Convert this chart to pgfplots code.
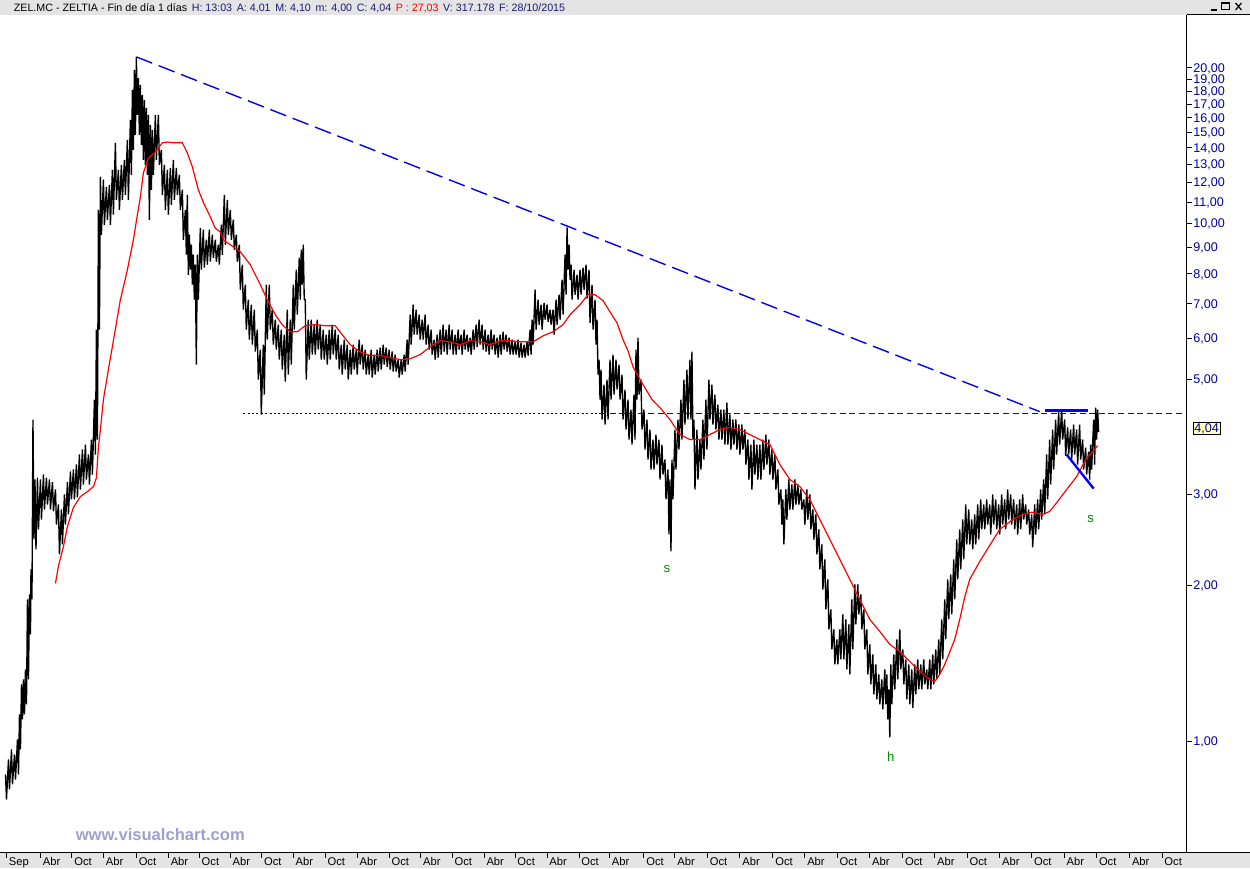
\documentclass[border=0pt]{standalone}
\usepackage{fontspec}
\setmainfont{Liberation Sans}
\usepackage{pgfplots}
\usepackage{pgfplotstable}
\pgfplotsset{compat=1.18}
\definecolor{hdrgray}{RGB}{228,228,228}
\definecolor{axblue}{RGB}{0,0,160}
\definecolor{wm}{RGB}{160,160,205}
\definecolor{sgreen}{RGB}{0,140,0}
\definecolor{boxyellow}{RGB}{255,255,190}
\definecolor{hdrblue}{RGB}{25,25,112}
\definecolor{hdrred}{RGB}{255,0,0}

\pgfplotstableread{
x p
5 0.863
6 0.772
8 0.923
9 0.808
11 0.965
12 0.826
14 0.944
15 0.844
17 1.009
18 0.863
19 1.127
20 0.965
21 1.288
22 1.103
23 1.317
24 1.127
25 1.377
26 1.179
27 1.880
28 1.317
29 1.922
30 1.609
30.5 2.148
31.5 1.880
32.5 4.183
33.5 2.454
34.5 3.204
35.5 2.348
37 3.23
38 2.566
40 3.204
41 2.682
43 3.276
44 2.804
46 3.23
47 2.867
49 3.204
50 2.804
52 3.17
53 2.78
55 3.065
56 2.623
58 2.867
59 2.296
61 2.804
62 2.400
64 2.998
65 2.623
67 3.17
68 2.743
70 3.32
71 2.932
73 3.350
74 2.932
76 3.425
77 2.96
79 3.581
80 3.065
82 3.661
83 3.134
85 3.743
86 3.204
88 3.581
89 3.134
91 3.827
92 3.276
94 4.572
95 3.581
96 6.238
97 3.827
98 10.63
99 6.238
100 12.3
101 9.514
103 12.15
104 9.947
106 11.77
107 10.17
109 11.88
110 9.947
112 12.70
113 10.40
115 14.32
116 11.11
118 12.70
119 10.63
121 12.98
122 11.11
124 13.27
125 11.36
127 14.51
128 11.11
130 15.86
131 12.42
132 18.12
133 13.88
134 19.80
135 14.83
136 20.98
137 16.21
138 19.10
139 14.83
140 18.52
141 14.19
142 17.72
143 13.27
144 17.33
145 12.98
146 16.73
147 12.42
148 16.21
149 10.17
150 15.51
151 11.62
152 15.17
153 12.42
155 16.21
156 13.27
158 16.21
159 12.98
161 13.88
162 11.36
164 12.98
165 10.63
167 12.70
168 10.40
170 12.81
171 10.87
173 13.27
174 11.11
176 12.81
177 11.36
179 12.42
180 10.63
182 11.62
183 9.305
185 10.63
186 8.705
187 11.36
188 7.965
189 9.514
190 8.144
191 9.101
192 7.619
193 8.705
194 7.128
195 8.327
196 5.340
197 8.705
198 7.128
200 9.81
201 8.144
203 9.728
204 8.22
206 9.305
207 8.327
209 9.728
210 8.44
212 9.514
213 8.59
215 9.305
216 8.44
218 9.101
219 8.327
221 9.947
222 8.705
224 11.36
225 9.101
227 11.11
228 9.514
230 10.63
231 9.305
233 10.17
234 8.901
236 9.514
237 8.44
239 9.101
240 7.451
242 8.327
243 6.818
245 7.619
246 6.238
248 7.128
249 5.967
251 6.971
252 5.836
254 6.818
255 5.66
257 6.238
258 4.996
260 5.708
261 4.277
263 5.836
264 4.674
266 7.619
267 5.967
269 7.619
270 6.238
272 6.818
273 5.836
275 6.522
276 5.708
278 6.378
279 5.460
281 6.238
282 5.223
284 6.101
285 4.95
287 6.818
288 5.108
290 6.522
291 5.340
293 7.619
294 6.238
296 8.144
297 6.668
299 8.59
300 7.128
301 8.901
302 7.619
303 9.101
304 7.128
305 7.128
306 4.996
308 6.522
309 5.460
311 6.522
312 5.583
314 6.378
315 5.583
317 6.522
318 5.708
320 6.378
321 5.460
323 6.238
324 5.460
326 6.101
327 5.340
329 6.238
330 5.460
332 6.378
333 5.583
335 6.238
336 5.460
338 6.101
339 5.223
341 5.836
342 5.108
344 5.967
345 5.223
347 5.836
348 4.996
350 5.708
351 5.108
353 5.836
354 5.223
356 5.708
357 5.108
359 5.967
360 5.340
362 5.836
363 5.223
365 5.708
366 5.108
368 5.583
369 5.108
371 5.708
372 5.04
374 5.583
375 5.108
377 5.708
378 5.18
380 5.76
381 5.223
383 5.836
384 5.340
386 5.76
387 5.29
389 5.708
390 5.223
392 5.66
393 5.18
395 5.583
396 5.18
398 5.460
399 5.04
401 5.460
402 5.108
404 5.583
405 5.18
407 5.967
408 5.340
410 6.668
411 5.836
413 6.971
414 6.101
416 6.818
417 6.101
419 6.668
420 5.967
422 6.522
423 5.967
425 6.668
426 5.836
428 6.378
429 5.708
431 6.238
432 5.583
434 5.967
435 5.460
437 6.101
438 5.51
440 6.238
441 5.583
443 6.378
444 5.66
446 6.238
447 5.583
449 6.378
450 5.708
452 6.238
453 5.583
455 6.101
456 5.583
458 6.238
459 5.708
461 6.101
462 5.583
464 6.238
465 5.708
467 6.101
468 5.66
470 6.02
471 5.583
473 6.238
474 5.708
476 6.378
477 5.78
479 6.522
480 5.836
482 6.378
483 5.708
485 6.238
486 5.66
488 6.101
489 5.583
491 6.238
492 5.708
494 6.101
495 5.583
497 6.02
498 5.51
500 6.101
501 5.583
503 6.18
504 5.708
506 6.101
507 5.66
509 6.02
510 5.583
512 5.967
513 5.583
515 5.91
516 5.583
518 5.967
519 5.51
521 5.89
522 5.51
524 5.836
525 5.51
527 5.91
528 5.56
530 6.238
531 5.583
532 6.522
533 5.836
535 7.451
536 6.238
538 7.128
539 6.378
541 6.971
542 6.238
544 7.03
545 6.522
547 6.971
548 6.46
550 6.818
551 6.378
553 6.818
554 6.101
556 7.128
557 6.378
559 7.288
560 6.522
562 7.790
563 6.668
565 8.705
566 7.288
567 9.83
568 8.144
569 9.101
570 7.790
571 8.327
572 7.128
574 8.144
575 7.288
577 7.965
578 7.128
580 8.144
581 7.288
583 8.22
584 7.451
586 8.327
587 7.16
589 8.144
590 6.43
592 7.619
593 6.238
595 7.128
596 5.836
597 6.522
598 5.108
599 5.460
600 4.572
601 5.223
602 4.183
604 4.887
605 4.091
607 4.996
608 4.183
610 5.460
611 4.572
613 5.583
614 4.674
616 5.460
617 4.779
619 5.340
620 4.572
622 5.108
623 4.183
625 4.779
626 4.001
628 4.572
629 3.827
631 4.373
632 3.743
634 4.674
635 3.827
636 5.708
637 4.572
638 6.02
639 4.674
641 4.996
642 4.001
644 4.373
645 3.661
647 4.183
648 3.502
650 4.001
651 3.350
653 3.827
654 3.350
656 3.913
657 3.425
659 3.827
660 3.204
662 3.743
663 3.276
665 3.502
666 2.932
668 3.350
669 2.509
670 3.204
671 2.327
672 3.502
673 2.932
675 4.001
676 3.350
678 4.183
679 3.661
681 4.572
682 3.827
684 4.996
685 4.091
687 5.223
688 4.183
690 5.460
691 4.183
692 5.66
693 3.827
694 4.183
695 3.065
697 4.001
698 3.204
700 3.827
701 3.350
703 4.183
704 3.502
706 4.572
707 3.661
709 4.996
710 4.183
712 4.887
713 4.091
715 4.674
716 4.001
718 4.471
719 3.827
721 4.373
722 3.827
724 4.373
725 3.743
727 4.51
728 3.743
730 4.277
731 3.661
733 4.183
734 3.743
736 4.183
737 3.661
739 4.091
740 3.581
742 4.091
743 3.661
745 4.001
746 3.425
748 3.827
749 3.204
751 3.743
752 3.065
754 3.827
755 3.276
757 3.743
758 3.204
760 3.743
761 3.204
763 3.827
764 3.350
766 3.913
767 3.425
769 3.827
770 3.276
772 3.661
773 3.204
775 3.581
776 3.065
778 3.350
779 2.867
781 3.065
782 2.623
783 2.932
784 2.400
786 3.065
787 2.682
789 3.204
790 2.804
792 3.134
793 2.804
795 3.204
796 2.867
798 3.134
799 2.867
801 3.065
802 2.804
804 2.932
805 2.623
807 3.065
808 2.682
810 2.998
811 2.566
813 2.804
814 2.454
816 2.743
817 2.296
819 2.566
820 2.148
822 2.400
823 1.965
825 2.246
826 1.798
828 2.055
829 1.645
831 1.798
832 1.505
834 1.645
835 1.408
837 1.574
838 1.408
840 1.645
841 1.440
843 1.759
844 1.440
846 1.720
847 1.377
849 1.682
850 1.347
852 1.880
853 1.505
855 2.009
856 1.682
858 2.009
859 1.759
861 1.922
862 1.645
864 1.798
865 1.505
867 1.645
868 1.347
870 1.539
871 1.288
873 1.472
874 1.232
876 1.408
877 1.205
879 1.347
880 1.179
882 1.317
883 1.153
885 1.377
886 1.179
887 1.347
888 1.103
889 1.260
890 1.018
891 1.408
892 1.179
894 1.472
895 1.260
897 1.574
898 1.317
900 1.645
901 1.377
903 1.505
904 1.288
906 1.440
907 1.205
909 1.408
910 1.179
912 1.377
913 1.16
915 1.408
916 1.232
918 1.440
919 1.260
921 1.408
922 1.260
924 1.440
925 1.288
927 1.377
928 1.260
930 1.440
931 1.260
933 1.472
934 1.288
936 1.505
937 1.317
939 1.574
940 1.347
942 1.720
943 1.440
945 1.880
946 1.574
948 2.055
949 1.720
951 2.101
952 1.759
954 2.246
955 1.880
957 2.454
958 2.055
960 2.566
961 2.148
963 2.682
964 2.246
966 2.867
967 2.400
969 2.804
970 2.400
972 2.682
973 2.348
975 2.743
976 2.400
978 2.867
979 2.454
981 2.932
982 2.566
984 2.867
985 2.566
987 2.932
988 2.623
990 2.867
991 2.509
993 2.998
994 2.623
996 2.932
997 2.566
999 2.867
1000 2.509
1002 2.998
1003 2.623
1005 2.932
1006 2.566
1008 3.065
1009 2.682
1011 2.998
1012 2.623
1014 2.932
1015 2.566
1017 2.867
1018 2.509
1020 2.932
1021 2.566
1023 2.998
1024 2.682
1026 2.867
1027 2.623
1029 2.804
1030 2.509
1032 2.743
1033 2.37
1035 2.867
1036 2.509
1038 2.932
1039 2.566
1041 3.065
1042 2.682
1044 3.204
1045 2.743
1047 3.581
1048 2.932
1050 3.827
1051 3.134
1053 4.001
1054 3.350
1056 4.183
1057 3.581
1059 4.33
1060 3.743
1062 4.373
1063 3.827
1065 4.183
1066 3.56
1068 4.04
1069 3.581
1071 4.001
1072 3.502
1074 4.091
1075 3.581
1077 4.001
1078 3.425
1080 4.091
1081 3.502
1083 3.827
1084 3.350
1086 3.69
1087 3.276
1089 3.626
1090 3.204
1091 3.743
1092 3.350
1094 4.183
1095 3.425
1096 4.41
1097 3.827
1098 4.373
1099 3.96
}\pricetable

\pgfplotstableread{
x ma
55 2.018
58 2.18
63 2.379
67 2.60
73 2.83
80 2.97
87 3.036
93 3.104
96 3.23
98 3.70
100 4.00
103 4.572
108 5.223
114 6.101
120 7.128
127 8.144
133 9.305
137 10.40
140 11.25
143 12.53
148 13.38
155 13.75
162 14.32
167 14.37
173 14.32
182 14.32
187 13.69
192 12.87
198 11.62
203 10.99
210 10.30
215 9.79
220 9.63
223 9.305
230 9.101
240 8.82
250 8.327
260 7.619
267 7.128
275 6.668
282 6.378
290 6.18
297 6.18
305 6.35
315 6.378
325 6.35
335 6.35
342 6.101
350 5.836
360 5.65
370 5.56
380 5.56
390 5.51
400 5.460
410 5.48
420 5.583
430 5.78
440 5.94
450 5.91
460 5.836
470 5.94
480 5.91
490 5.836
500 5.94
510 5.94
520 5.91
533 5.91
543 6.07
553 6.18
563 6.378
570 6.668
580 6.971
588 7.288
595 7.288
603 7.10
610 6.75
617 6.43
623 5.967
628 5.68
633 5.29
638 5.08
643 4.887
652 4.572
660 4.41
670 4.183
680 3.913
690 3.827
700 3.827
710 3.913
720 4.001
730 4.04
740 4.001
750 3.913
760 3.827
770 3.743
780 3.425
790 3.204
800 3.104
810 2.932
820 2.682
830 2.454
840 2.246
850 2.055
860 1.880
870 1.720
880 1.63
890 1.539
900 1.49
910 1.427
920 1.365
930 1.317
935 1.305
940 1.347
945 1.408
955 1.574
960 1.720
965 1.90
970 2.055
980 2.225
990 2.39
1000 2.566
1013 2.682
1023 2.743
1032 2.77
1043 2.743
1050 2.78
1057 2.89
1067 3.065
1077 3.245
1087 3.53
1093 3.626
1098 3.725
}\matable

\begin{document}
\begin{tikzpicture}
\begin{scope}[x=0.5pt,y=-0.5pt,yshift=426.5pt]
\useasboundingbox (0,0) rectangle (1250,869);
\fill[white] (0,0) rectangle (1250,869);
\fill[hdrgray] (0,0) rectangle (1250,15);
\fill[hdrgray] (0,853) rectangle (1250,869);
\end{scope}

\begin{axis}[
  at={(0pt,0pt)}, anchor=south west,
  scale only axis, width=593.5pt, height=419pt,
  xmin=0, xmax=1187, ymode=log, ymin=0.6105, ymax=25.28,
  axis x line*=bottom, axis y line*=right,
  axis line style={line width=0.5pt, black},
  tick align=outside, major tick length=2.6pt,
  tick style={black, line width=0.5pt},
  xminorticks=false, yminorticks=false,
  xtick={6,40,71.5,103,136,168,199,230,261.5,293,325,357,389,420.5,452,484,515,547,579,609.5,644,675,707.5,740,773,805,837.5,870,903,935,967.5,1000,1032,1064.5,1097,1130,1162.5},
  xticklabels={Sep,Abr,Oct,Abr,Oct,Abr,Oct,Abr,Oct,Abr,Oct,Abr,Oct,Abr,Oct,Abr,Oct,Abr,Oct,Abr,Oct,Abr,Oct,Abr,Oct,Abr,Oct,Abr,Oct,Abr,Oct,Abr,Oct,Abr,Oct,Abr,Oct},
  xticklabel style={font=\fontsize{5.6}{6}\selectfont, anchor=north west, inner sep=0pt, xshift=1pt, yshift=0.3pt},
  ytick={1,2,3,5,6,7,8,9,10,11,12,13,14,15,16,17,18,19,20},
  yticklabels={{1,00},{2,00},{3,00},{5,00},{6,00},{7,00},{8,00},{9,00},{10,00},{11,00},{12,00},{13,00},{14,00},{15,00},{16,00},{17,00},{18,00},{19,00},{20,00}},
  yticklabel style={font=\fontsize{6.3}{7}\selectfont, text=axblue, anchor=west, inner sep=0pt, text depth=0pt, xshift=0.6pt},
  clip=true,
]
% price bars (high/low zigzag)
\addplot[black, line width=0.68pt, line join=bevel, mark=none] table[x=x, y=p] {\pricetable};
% moving average
\addplot[red, line width=0.6pt, mark=none] table[x=x, y=ma] {\matable};
% long downward trendline
\addplot[blue, line width=0.7pt, dash pattern=on 8.5pt off 3.5pt, mark=none] coordinates {(136,20.98) (1040,4.333)};
% horizontal resistance
\addplot[black, line width=0.45pt, dash pattern=on 1pt off 1.2pt, mark=none] coordinates {(243,4.295) (600,4.295)};
\addplot[blue, line width=0.7pt, dash pattern=on 3pt off 1.8pt, mark=none] coordinates {(600,4.295) (1185,4.295)};
% short thick horizontal and diagonal
\addplot[blue, line width=1.4pt, mark=none] coordinates {(1045,4.358) (1088,4.358)};
\addplot[blue, line width=1.2pt, mark=none] coordinates {(1067,3.579) (1094,3.077)};
% pattern labels
\node[text=sgreen, font=\fontsize{6.6}{7}\selectfont] at (axis cs:667,2.148) {s};
\node[text=sgreen, font=\fontsize{6.6}{7}\selectfont] at (axis cs:891,0.935) {h};
\node[text=sgreen, font=\fontsize{6.6}{7}\selectfont] at (axis cs:1091,2.69) {s};
\end{axis}

\begin{scope}[x=0.5pt,y=-0.5pt,yshift=426.5pt]
\draw[black, line width=0.5pt] (1187,15) -- (1250,15);
\draw[black, line width=0.5pt] (1187,853) -- (1250,853);
% header text
\node[anchor=base west, inner sep=0pt, font=\fontsize{5.35}{6.5}\selectfont] at (13,11.5)
  {ZEL.MC - ZELTIA - Fin de día 1 días\hspace{2.3pt}\textcolor{hdrblue}{H: 13:03\hspace{2.3pt}A: 4,01\hspace{2.3pt}M: 4,10\hspace{2.3pt}m: 4,00\hspace{2.3pt}C: 4,04}\hspace{2.3pt}\textcolor{hdrred}{P : 27,03}\hspace{2.3pt}\textcolor{hdrblue}{V: 317.178\hspace{2.3pt}F: 28/10/2015}};
% window buttons
\draw[black, line width=0.8pt] (1211,10) -- (1217,10);
\draw[black, line width=0.5pt] (1222,3) rectangle (1230,10);
\draw[black, line width=0.8pt] (1222,3.5) -- (1230,3.5);
\draw[black, line width=0.6pt] (1236,3) -- (1242,10) (1242,3) -- (1236,10);
% watermark
\node[anchor=west, inner sep=0pt, text=wm, font=\bfseries\fontsize{8.3}{9}\selectfont] at (75,835) {www.visualchart.com};
% last price box
\node[anchor=west, draw=black, line width=0.4pt, fill=boxyellow, text=axblue, inner sep=0.7pt, text depth=0pt, font=\fontsize{6.3}{7}\selectfont] at (1193,428.5) {4,04};
\end{scope}
\end{tikzpicture}
\end{document}
